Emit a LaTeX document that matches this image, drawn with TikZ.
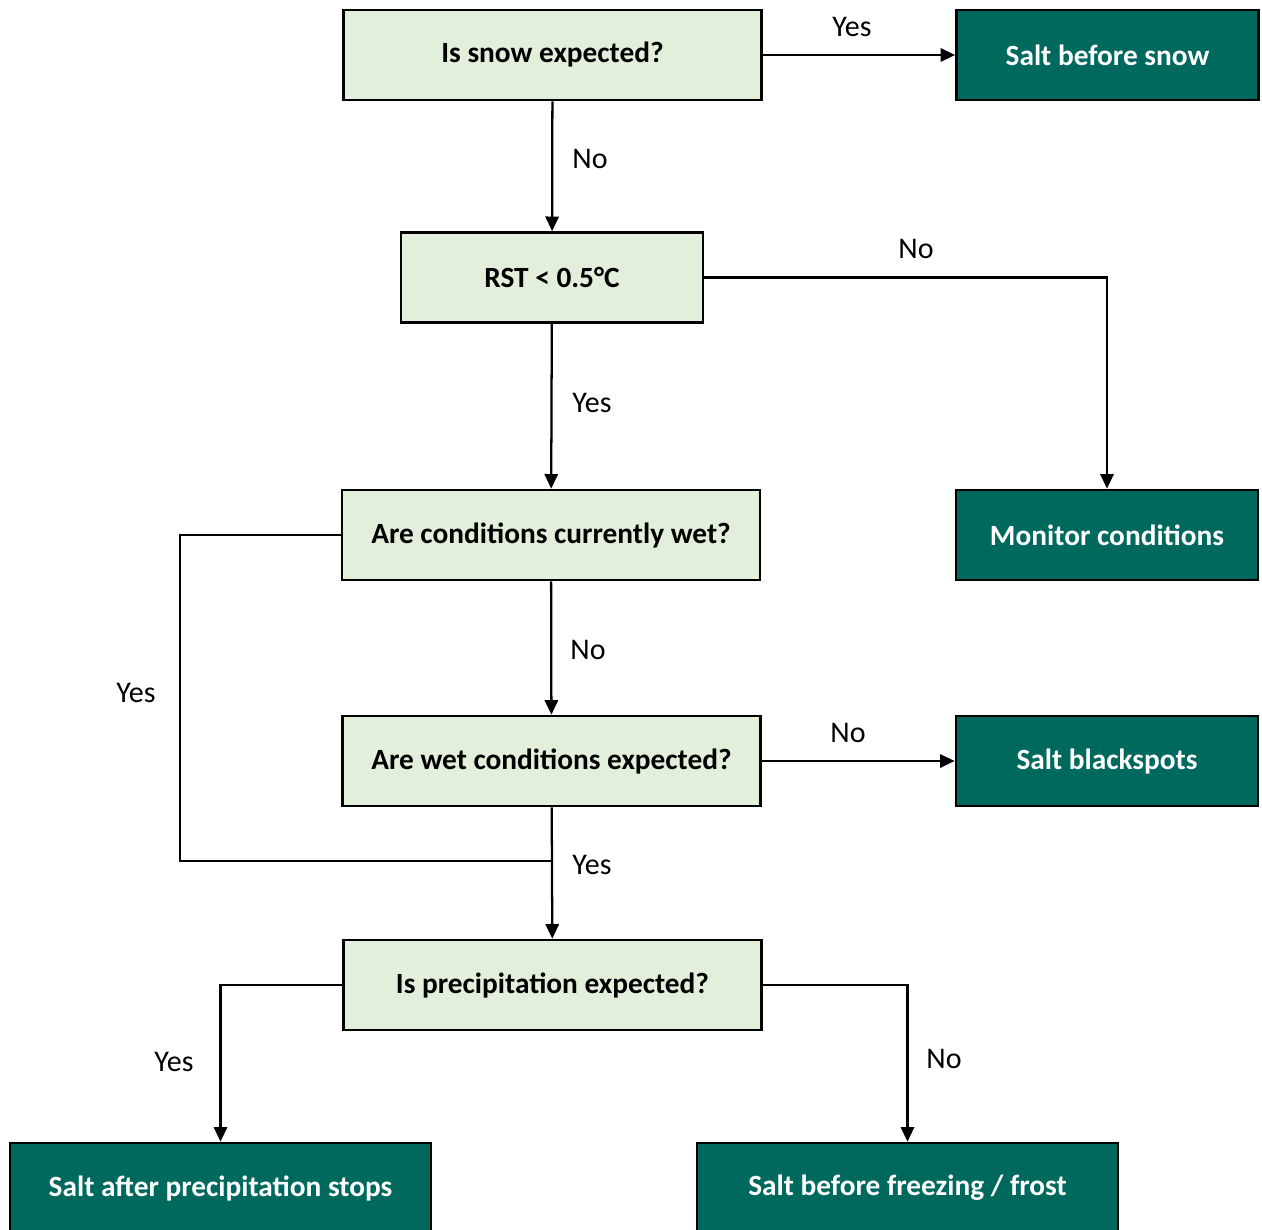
\documentclass[tikz,border=0pt]{standalone}
\usepackage{fontspec}
\setmainfont{Carlito}
\usetikzlibrary{arrows.meta}

\definecolor{paleGreen}{RGB}{226,239,218}
\definecolor{darkTeal}{RGB}{0,105,94}

\tikzset{
  question/.style={draw=black, line width=2pt, fill=paleGreen, minimum width=313.5pt, minimum height=67.5pt, inner sep=0pt, font=\bfseries\fontsize{22}{26}\selectfont},
  action/.style={draw=black, line width=2pt, fill=darkTeal, text=white, minimum width=226.5pt, minimum height=67.5pt, inner sep=0pt, font=\bfseries\fontsize{22}{26}\selectfont},
  flow/.style={line width=1.7pt, -{Triangle[length=11pt,width=10pt]}},
  answer/.style={inner sep=0pt, font=\fontsize{22.5}{26}\selectfont}
}

\begin{document}
\begin{tikzpicture}[x=0.75pt,y=-0.75pt]
\useasboundingbox (0,0) rectangle (1262,1229);

\node [question] (snow) at (552.5,55) {Is snow expected?};
\node [action] (saltsnow) at (1107.5,55) {Salt before snow};
\node [question, minimum width=226.5pt] (rst) at (552,277.5) {RST < 0.5°C};
\node [question] (wet) at (551,535) {Are conditions currently wet?};
\node [action] (monitor) at (1107,535) {Monitor conditions};
\node [question] (wetexp) at (551.5,761) {Are wet conditions expected?};
\node [action] (blackspots) at (1107,761) {Salt blackspots};
\node [question] (precip) at (552.5,985) {Is precipitation expected?};
\node [action, minimum width=315.75pt] (after) at (220.5,1188) {Salt after precipitation stops};
\node [action, minimum width=315.75pt] (freeze) at (907.5,1188) {Salt before freezing / frost};

\coordinate (join) at (551.5,861);

\draw [flow] (snow) -- (saltsnow);
\draw [flow] (snow) -- (rst);
\draw [flow] (rst.east) -| (monitor);
\draw [flow] (rst) -- (wet);
\draw [flow] (wet) -- (wetexp);
\draw [flow] (wetexp) -- (blackspots);
\draw [flow] (wetexp) -- (precip);
\draw [line width=1.7pt] (wet.west) -- (180,535) |- (join);
\draw [flow] (precip.west) -| (after);
\draw [flow] (precip.east) -| (freeze);

\node [answer] (l1) at (852,27) {Yes};
\node [answer] (l2) at (590,159) {No};
\node [answer] (l3) at (916,249) {No};
\node [answer] (l4) at (592,403) {Yes};
\node [answer] (l5) at (588,650) {No};
\node [answer] (l6) at (848,733) {No};
\node [answer] (l7) at (592,865) {Yes};
\node [answer] (l8) at (136,693) {Yes};
\node [answer] (l9) at (174,1062) {Yes};
\node [answer] (l10) at (944,1059) {No};

\end{tikzpicture}
\end{document}
